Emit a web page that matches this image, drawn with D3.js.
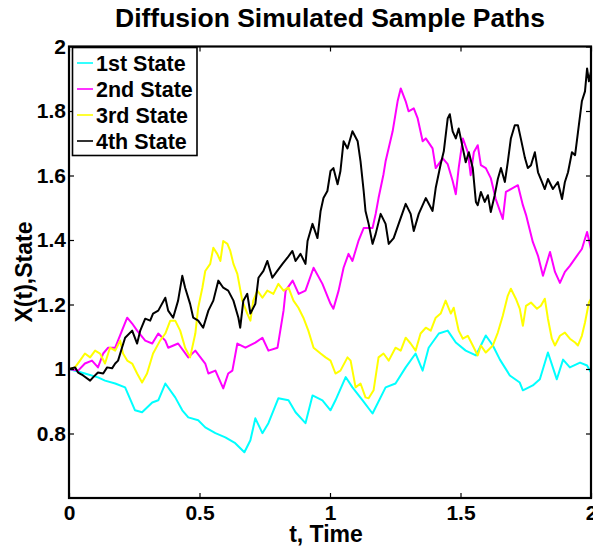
<!DOCTYPE html>
<html>
<head>
<meta charset="utf-8">
<script src="https://cdn.jsdelivr.net/npm/d3@7"></script>
<style>
  body { margin: 0; background: #fff; }
  text { font-family: Helvetica, Arial, "Liberation Sans", sans-serif; font-weight: bold; fill: #000; }
</style>
</head>
<body>
<svg id="chart" width="593" height="547"></svg>
<script>
const names = ['1st State', '2nd State', '3rd State', '4th State'];
const colors = ['#00ffff', '#ff00ff', '#ffff00', '#000000'];
const xTicks = [0, 0.5, 1, 1.5, 2];
const yTicks = [0.8, 1, 1.2, 1.4, 1.6, 1.8, 2];

const t1 = [0, 0.061, 0.111, 0.138, 0.177, 0.215, 0.253, 0.280, 0.319, 0.342, 0.369, 0.407, 0.434, 0.457, 0.495, 0.522, 0.561, 0.599, 0.637, 0.672, 0.695, 0.714, 0.741, 0.764, 0.802, 0.841, 0.868, 0.906, 0.933, 0.971, 1.002, 1.021, 1.060, 1.086, 1.125, 1.163, 1.213, 1.251, 1.290, 1.328, 1.355, 1.378, 1.417, 1.451, 1.482, 1.520, 1.559, 1.597, 1.624, 1.651, 1.689, 1.727, 1.739, 1.777, 1.804, 1.835, 1.869, 1.893, 1.919, 1.958, 1.985, 2.000];
const v1 = [1.00, 0.986, 0.974, 0.964, 0.955, 0.943, 0.872, 0.866, 0.896, 0.903, 0.955, 0.912, 0.872, 0.850, 0.841, 0.819, 0.801, 0.788, 0.770, 0.742, 0.779, 0.847, 0.801, 0.832, 0.909, 0.903, 0.866, 0.832, 0.918, 0.903, 0.872, 0.903, 0.975, 0.943, 0.903, 0.862, 0.943, 0.955, 1.005, 1.048, 0.995, 1.066, 1.110, 1.119, 1.082, 1.057, 1.042, 1.104, 1.073, 1.029, 0.980, 0.958, 0.934, 0.949, 0.968, 1.051, 0.968, 1.029, 1.005, 1.020, 1.011, 0.989];

const t2 = [0, 0.035, 0.061, 0.088, 0.111, 0.131, 0.150, 0.177, 0.203, 0.223, 0.242, 0.261, 0.292, 0.319, 0.342, 0.369, 0.380, 0.418, 0.457, 0.484, 0.522, 0.534, 0.561, 0.591, 0.610, 0.626, 0.645, 0.676, 0.714, 0.741, 0.764, 0.799, 0.822, 0.830, 0.857, 0.880, 0.906, 0.937, 0.971, 1.002, 1.013, 1.033, 1.052, 1.071, 1.086, 1.109, 1.129, 1.163, 1.175, 1.186, 1.205, 1.213, 1.240, 1.259, 1.271, 1.290, 1.301, 1.321, 1.336, 1.355, 1.367, 1.393, 1.405, 1.432, 1.451, 1.470, 1.482, 1.493, 1.509, 1.528, 1.539, 1.551, 1.566, 1.578, 1.597, 1.616, 1.635, 1.662, 1.674, 1.693, 1.720, 1.739, 1.751, 1.777, 1.797, 1.816, 1.843, 1.862, 1.881, 1.900, 1.919, 1.946, 1.965, 1.985, 2.000];
const v2 = [1.00, 0.995, 1.017, 1.026, 1.005, 1.048, 1.066, 1.066, 1.119, 1.159, 1.141, 1.119, 1.088, 1.079, 1.110, 1.088, 1.066, 1.079, 1.036, 1.057, 1.017, 0.986, 0.995, 0.940, 0.986, 0.995, 1.079, 1.066, 1.082, 1.097, 1.057, 1.066, 1.181, 1.243, 1.274, 1.233, 1.243, 1.314, 1.264, 1.202, 1.187, 1.243, 1.314, 1.357, 1.335, 1.397, 1.437, 1.437, 1.481, 1.530, 1.604, 1.644, 1.737, 1.830, 1.870, 1.830, 1.799, 1.808, 1.777, 1.706, 1.715, 1.684, 1.623, 1.653, 1.635, 1.583, 1.542, 1.623, 1.715, 1.672, 1.601, 1.672, 1.694, 1.632, 1.623, 1.592, 1.527, 1.465, 1.549, 1.558, 1.570, 1.508, 1.478, 1.394, 1.351, 1.289, 1.363, 1.301, 1.267, 1.301, 1.320, 1.351, 1.372, 1.425, 1.372];

const t3 = [0, 0.023, 0.042, 0.061, 0.081, 0.100, 0.119, 0.138, 0.157, 0.177, 0.196, 0.207, 0.223, 0.242, 0.261, 0.280, 0.299, 0.322, 0.349, 0.369, 0.388, 0.407, 0.426, 0.445, 0.464, 0.484, 0.495, 0.511, 0.522, 0.541, 0.553, 0.568, 0.580, 0.591, 0.607, 0.618, 0.630, 0.645, 0.664, 0.683, 0.695, 0.706, 0.722, 0.741, 0.760, 0.783, 0.802, 0.822, 0.841, 0.860, 0.879, 0.898, 0.917, 0.937, 0.964, 0.983, 1.002, 1.021, 1.040, 1.067, 1.079, 1.098, 1.117, 1.136, 1.148, 1.167, 1.186, 1.205, 1.225, 1.251, 1.271, 1.290, 1.309, 1.328, 1.347, 1.367, 1.386, 1.405, 1.424, 1.443, 1.463, 1.474, 1.493, 1.509, 1.528, 1.547, 1.566, 1.578, 1.597, 1.624, 1.643, 1.662, 1.681, 1.693, 1.712, 1.727, 1.739, 1.751, 1.770, 1.793, 1.808, 1.823, 1.835, 1.850, 1.862, 1.881, 1.900, 1.919, 1.939, 1.950, 1.965, 1.977, 1.992, 2.000];
const v3 = [1.00, 1.005, 1.026, 1.048, 1.036, 1.057, 1.048, 1.017, 1.066, 1.057, 1.088, 1.048, 1.026, 1.017, 0.986, 0.958, 0.986, 1.048, 1.088, 1.110, 1.150, 1.150, 1.119, 1.066, 1.036, 1.110, 1.190, 1.252, 1.304, 1.326, 1.376, 1.357, 1.335, 1.397, 1.388, 1.366, 1.326, 1.295, 1.212, 1.172, 1.150, 1.212, 1.243, 1.221, 1.243, 1.233, 1.264, 1.243, 1.252, 1.212, 1.190, 1.159, 1.119, 1.066, 1.048, 1.036, 1.026, 0.986, 0.995, 1.036, 1.026, 0.943, 0.955, 0.912, 0.909, 0.934, 1.036, 1.048, 1.026, 1.066, 1.057, 1.097, 1.079, 1.057, 1.110, 1.128, 1.119, 1.159, 1.172, 1.212, 1.172, 1.190, 1.119, 1.094, 1.103, 1.073, 1.042, 1.073, 1.051, 1.073, 1.113, 1.165, 1.227, 1.249, 1.218, 1.187, 1.134, 1.196, 1.206, 1.187, 1.196, 1.218, 1.156, 1.094, 1.073, 1.103, 1.113, 1.094, 1.082, 1.073, 1.103, 1.144, 1.206, 1.218];

const t4 = [0, 0.023, 0.035, 0.054, 0.081, 0.092, 0.111, 0.131, 0.146, 0.165, 0.177, 0.188, 0.203, 0.215, 0.242, 0.261, 0.273, 0.292, 0.311, 0.322, 0.342, 0.369, 0.380, 0.399, 0.418, 0.434, 0.445, 0.464, 0.476, 0.495, 0.514, 0.534, 0.553, 0.572, 0.591, 0.610, 0.630, 0.649, 0.656, 0.668, 0.683, 0.695, 0.714, 0.726, 0.745, 0.760, 0.779, 0.798, 0.818, 0.837, 0.856, 0.868, 0.887, 0.906, 0.914, 0.933, 0.952, 0.964, 0.975, 0.990, 1.002, 1.013, 1.029, 1.040, 1.052, 1.067, 1.086, 1.106, 1.117, 1.129, 1.136, 1.148, 1.163, 1.175, 1.194, 1.213, 1.225, 1.244, 1.263, 1.290, 1.309, 1.321, 1.340, 1.367, 1.393, 1.405, 1.424, 1.436, 1.451, 1.459, 1.470, 1.482, 1.493, 1.509, 1.520, 1.532, 1.547, 1.559, 1.566, 1.578, 1.593, 1.605, 1.616, 1.631, 1.643, 1.655, 1.670, 1.681, 1.693, 1.708, 1.720, 1.731, 1.747, 1.758, 1.770, 1.785, 1.797, 1.812, 1.823, 1.835, 1.854, 1.873, 1.889, 1.900, 1.912, 1.927, 1.939, 1.950, 1.965, 1.977, 1.985, 1.992, 2.000];
const v4 = [1.00, 1.005, 0.989, 0.980, 0.964, 0.974, 0.989, 0.986, 1.005, 1.002, 1.017, 1.026, 1.066, 1.097, 1.119, 1.079, 1.119, 1.156, 1.150, 1.172, 1.181, 1.221, 1.181, 1.159, 1.212, 1.289, 1.252, 1.202, 1.159, 1.150, 1.128, 1.181, 1.212, 1.274, 1.252, 1.243, 1.212, 1.159, 1.128, 1.212, 1.233, 1.172, 1.202, 1.283, 1.304, 1.335, 1.283, 1.304, 1.326, 1.345, 1.366, 1.335, 1.357, 1.326, 1.397, 1.450, 1.406, 1.490, 1.530, 1.552, 1.614, 1.623, 1.573, 1.614, 1.706, 1.684, 1.737, 1.706, 1.644, 1.552, 1.490, 1.450, 1.388, 1.419, 1.481, 1.450, 1.388, 1.406, 1.450, 1.512, 1.481, 1.428, 1.481, 1.530, 1.490, 1.561, 1.635, 1.675, 1.777, 1.790, 1.737, 1.715, 1.746, 1.684, 1.641, 1.672, 1.623, 1.518, 1.508, 1.549, 1.518, 1.539, 1.487, 1.539, 1.589, 1.623, 1.580, 1.641, 1.715, 1.756, 1.756, 1.715, 1.654, 1.623, 1.632, 1.672, 1.610, 1.580, 1.558, 1.589, 1.558, 1.580, 1.527, 1.580, 1.610, 1.672, 1.663, 1.734, 1.830, 1.861, 1.932, 1.892, 1.923];

const times = [t1, t2, t3, t4];
const values = [v1, v2, v3, v4];

const svg = d3.select('#chart');
const margin = {left: 69, right: 591, top: 46.5, bottom: 498};

const x = d3.scaleLinear().domain([0, 2]).range([margin.left, margin.right]);
const y = d3.scaleLinear().domain([0.6, 2]).range([margin.bottom, margin.top]);

const line = d3.line()
  .x(d => x(d[0]))
  .y(d => y(d[1]));

// the four sample paths, first one at the bottom
names.forEach((name, i) => {
  const pts = times[i].map((t, j) => [t, values[i][j]]);
  svg.append('path')
    .datum(pts)
    .attr('fill', 'none')
    .attr('stroke', colors[i])
    .attr('stroke-width', 2)
    .attr('stroke-linejoin', 'round')
    .attr('d', line);
});

// axes, ticks pointing inwards
const fmt = d => String(+d.toFixed(1));
svg.append('g')
  .attr('transform', 'translate(0,' + margin.bottom + ')')
  .call(d3.axisBottom(x).tickValues(xTicks).tickFormat(fmt).tickSize(-5).tickPadding(7));
svg.append('g')
  .attr('transform', 'translate(0,' + margin.top + ')')
  .call(d3.axisTop(x).tickValues(xTicks).tickFormat('').tickSize(-5));
svg.append('g')
  .attr('transform', 'translate(' + margin.left + ',0)')
  .call(d3.axisLeft(y).tickValues(yTicks).tickFormat(fmt).tickSize(-5).tickPadding(3));
svg.append('g')
  .attr('transform', 'translate(' + margin.right + ',0)')
  .call(d3.axisRight(y).tickValues(yTicks).tickFormat('').tickSize(-5));

svg.selectAll('.domain').remove();
svg.selectAll('.tick line').attr('stroke', '#000').attr('stroke-width', 1.2);
svg.selectAll('.tick text')
  .attr('font-size', 21)
  .attr('font-family', 'Helvetica, Arial, "Liberation Sans", sans-serif')
  .attr('font-weight', 'bold')
  .attr('fill', '#000');

svg.append('rect')
  .attr('x', margin.left).attr('y', margin.top)
  .attr('width', margin.right - margin.left).attr('height', margin.bottom - margin.top)
  .attr('fill', 'none')
  .attr('stroke', '#000')
  .attr('stroke-width', 2.2);

// titles
svg.append('text')
  .attr('x', 330).attr('y', 27)
  .attr('text-anchor', 'middle')
  .attr('font-size', 26.5)
  .text('Diffusion Simulated Sample Paths');
svg.append('text')
  .attr('x', 326).attr('y', 542)
  .attr('text-anchor', 'middle')
  .attr('font-size', 23)
  .text('t, Time');
svg.append('text')
  .attr('transform', 'translate(32,272) rotate(-90)')
  .attr('text-anchor', 'middle')
  .attr('font-size', 23)
  .text('X(t),State');

// legend
const lg = svg.append('g');
lg.append('rect')
  .attr('x', 72.5).attr('y', 47.5)
  .attr('width', 124.5).attr('height', 108)
  .attr('fill', '#fff')
  .attr('stroke', '#000')
  .attr('stroke-width', 1.6);
names.forEach((name, i) => {
  const ly = 63 + i * 26;
  lg.append('line')
    .attr('x1', 77).attr('x2', 93)
    .attr('y1', ly).attr('y2', ly)
    .attr('stroke', colors[i])
    .attr('stroke-width', 1.6);
  lg.append('text')
    .attr('x', 96).attr('y', ly + 8)
    .attr('font-size', 21.5)
    .text(name);
});
</script>
</body>
</html>
